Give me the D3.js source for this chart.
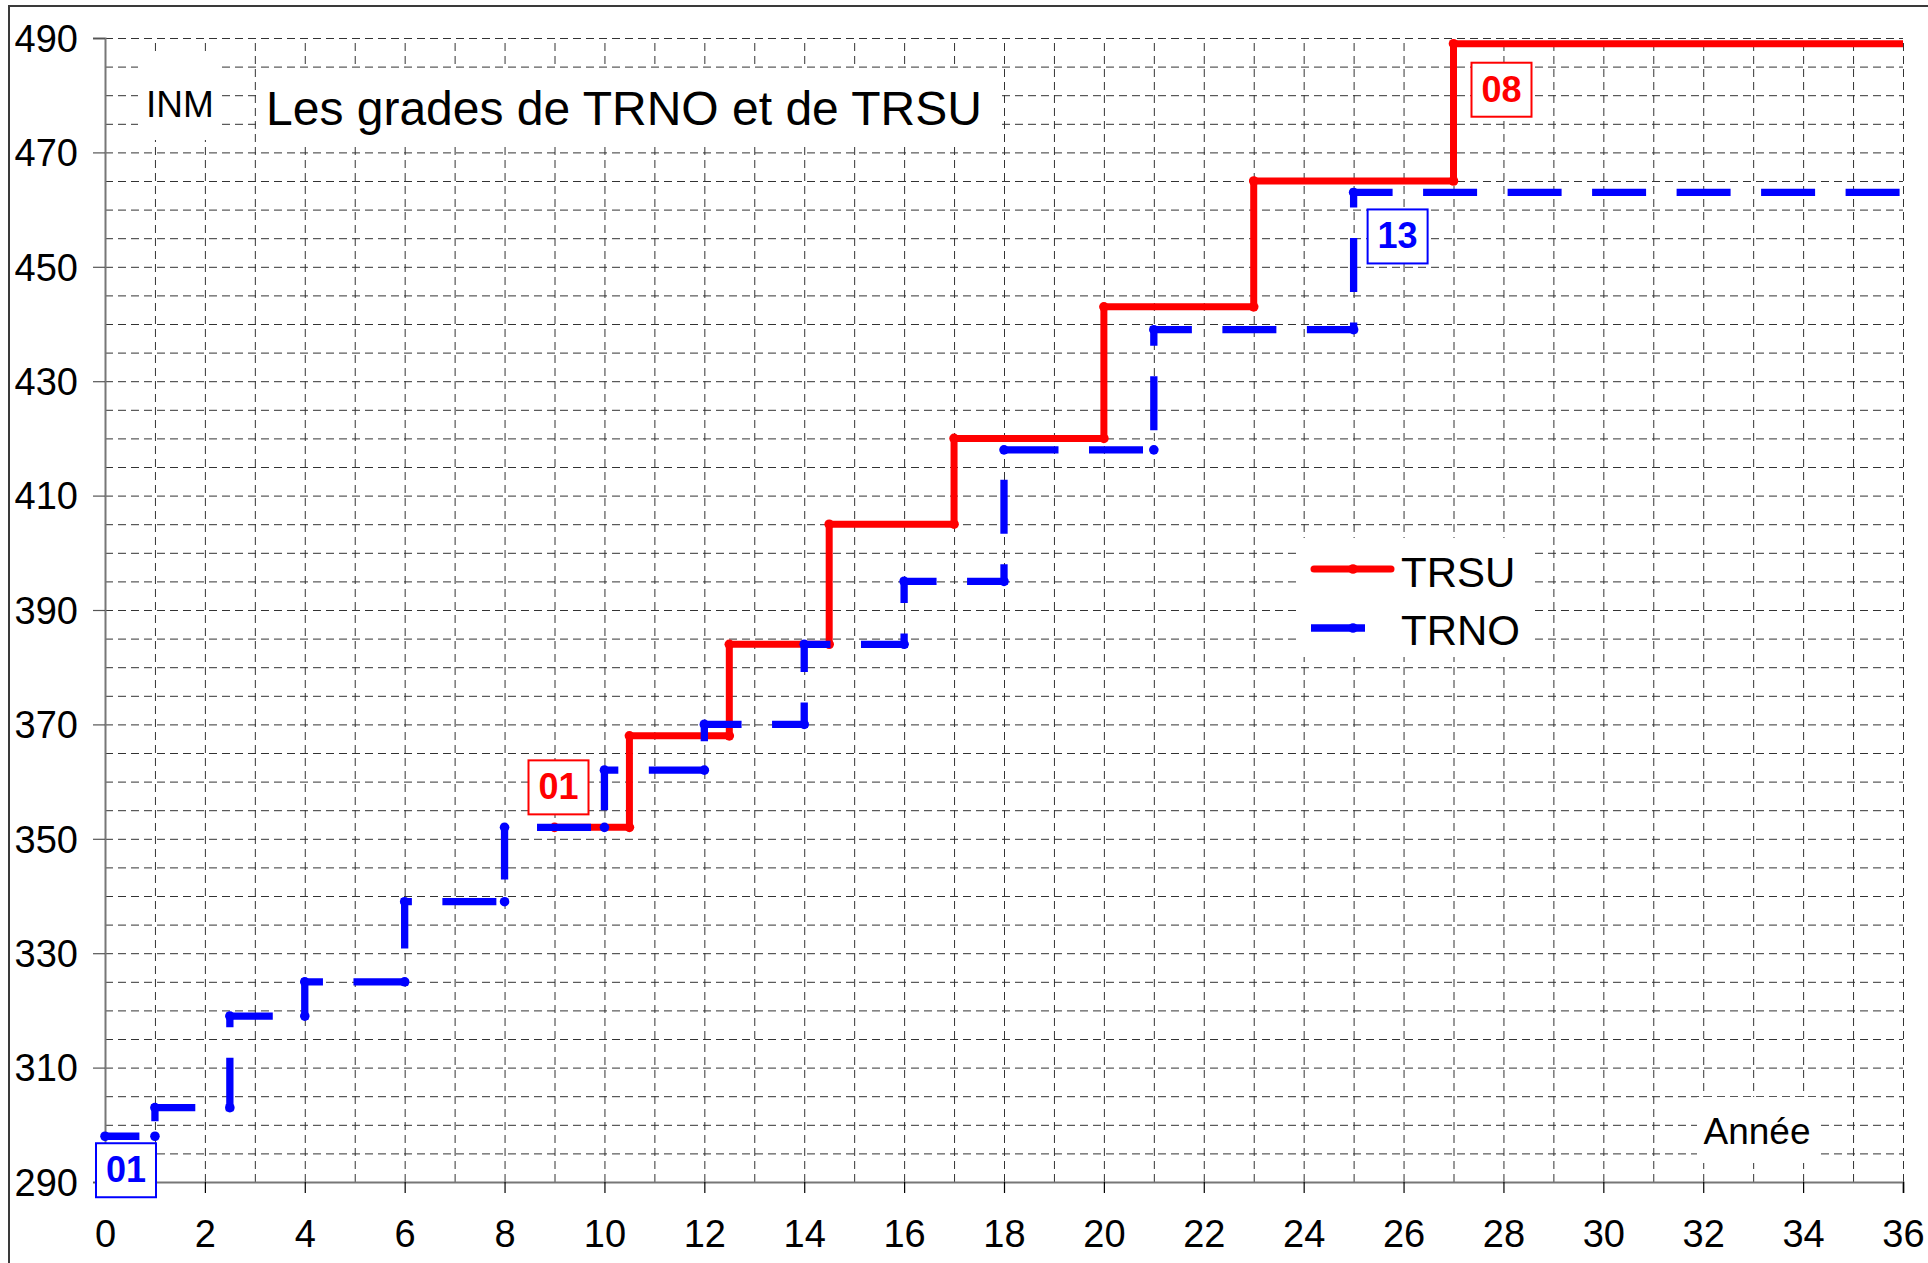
<!DOCTYPE html>
<html>
<head>
<meta charset="utf-8">
<script src="https://cdn.jsdelivr.net/npm/d3@7"></script>
<style>
  body { margin: 0; background: #fff; }
  svg text { font-family: "Liberation Sans", Arial, sans-serif; fill: #000; }
</style>
</head>
<body>
<div id="chart"></div>
<script>
// grade steps: a step starts at years[i] with index values[i], the last year closes the line
const trnoYears = [0, 1, 2.5, 4, 6, 8, 10, 12, 14, 16, 18, 21, 25, 36];
const trnoIndices = [298, 303, 319, 325, 339, 352, 362, 370, 384, 395, 418, 439, 463];
const trsuYears = [9, 10.5, 12.5, 14.5, 17, 20, 23, 27, 36];
const trsuIndices = [352, 368, 384, 405, 420, 443, 465, 489];

const xTickLabels = [0, 2, 4, 6, 8, 10, 12, 14, 16, 18, 20, 22, 24, 26, 28, 30, 32, 34, 36];
const yTickLabels = [290, 310, 330, 350, 370, 390, 410, 430, 450, 470, 490];

const seriesNames = ['TRSU', 'TRNO'];
const gradeLabels = ['01', '08', '01', '13']; // first / last echelon of TRSU, then TRNO
const titleText = 'Les grades de TRNO et de TRSU';
const cornerText = 'INM';
const xAxisText = 'Année';

const W = 1928, H = 1263;
const RED = '#ff0000', BLUE = '#0000ff';

const svg = d3.select('#chart').append('svg')
  .attr('width', W)
  .attr('height', H);

// chart frame, only its top and left edges are inside the picture
svg.append('rect')
  .attr('x', 9).attr('y', 6)
  .attr('width', 3000).attr('height', 3000)
  .attr('fill', 'none')
  .attr('stroke', '#3a3a3a')
  .attr('stroke-width', 2);

const x = d3.scaleLinear().domain([0, 36]).range([105, 1903]);
const y = d3.scaleLinear().domain([290, 490]).range([1182, 38]);

// dashed grid
const grid = svg.append('g').attr('class', 'grid');
grid.append('g')
  .attr('transform', `translate(0,${y(290)})`)
  .call(d3.axisBottom(x).tickValues(d3.range(1, 37)).tickSize(-(y(290) - y(490))).tickFormat(''));
grid.append('g')
  .attr('transform', `translate(${x(0)},0)`)
  .call(d3.axisLeft(y).tickValues(d3.range(295, 491, 5)).tickSize(-(x(36) - x(0))).tickFormat(''));
grid.selectAll('.domain').remove();
grid.selectAll('line')
  .attr('stroke', '#333')
  .attr('stroke-width', 1)
  .attr('stroke-dasharray', '8,5');

// axes
const xAxis = svg.append('g')
  .attr('transform', `translate(0,${y(290)})`)
  .call(d3.axisBottom(x).tickValues(xTickLabels).tickSize(11).tickPadding(27));
xAxis.select('.domain').attr('stroke', '#777').attr('stroke-width', 2);
xAxis.selectAll('.tick line').attr('stroke', '#000').attr('stroke-width', 1.2);
xAxis.selectAll('.tick text')
  .attr('font-size', 38)
  .attr('font-family', '"Liberation Sans", Arial, sans-serif');

const yAxis = svg.append('g')
  .attr('transform', `translate(${x(0)},0)`)
  .call(d3.axisLeft(y).tickValues(yTickLabels).tickSize(12).tickPadding(15));
yAxis.select('.domain').attr('stroke', '#777').attr('stroke-width', 2);
yAxis.selectAll('.tick line').attr('stroke', '#555').attr('stroke-width', 1.2);
yAxis.selectAll('.tick text')
  .attr('font-size', 38)
  .attr('dy', '0.35em')
  .attr('font-family', '"Liberation Sans", Arial, sans-serif');

// white boxes behind the free texts
const boxes = [
  { x: 138, y: 52, w: 82, h: 88 },
  { x: 257, y: 68, w: 740, h: 78 },
  { x: 1697, y: 1097, w: 120, h: 66 },
  { x: 1297, y: 538, w: 236, h: 119 }
];
svg.append('g').selectAll('rect')
  .data(boxes)
  .enter().append('rect')
  .attr('x', d => d.x).attr('y', d => d.y)
  .attr('width', d => d.w).attr('height', d => d.h)
  .attr('fill', '#fff');

svg.append('text')
  .attr('x', 180).attr('y', 117)
  .attr('text-anchor', 'middle')
  .attr('font-size', 37)
  .text(cornerText);

svg.append('text')
  .attr('x', 266).attr('y', 125)
  .attr('font-size', 48)
  .text(titleText);

svg.append('text')
  .attr('x', 1757).attr('y', 1144)
  .attr('text-anchor', 'middle')
  .attr('font-size', 37)
  .text(xAxisText);

function stepPoints(years, values) {
  const pts = [];
  values.forEach((v, i) => {
    pts.push([years[i], v]);
    pts.push([years[i + 1], v]);
  });
  return pts;
}

const trsuPts = stepPoints(trsuYears, trsuIndices);
const trnoPts = stepPoints(trnoYears, trnoIndices);

const line = d3.line().x(d => x(d[0])).y(d => y(d[1]));

svg.append('path')
  .datum(trsuPts)
  .attr('d', line)
  .attr('fill', 'none')
  .attr('stroke', RED)
  .attr('stroke-width', 7)
  .attr('stroke-linejoin', 'round');

svg.append('g').selectAll('circle')
  .data(trsuPts.slice(0, -1))
  .enter().append('circle')
  .attr('cx', d => x(d[0]))
  .attr('cy', d => y(d[1]))
  .attr('r', 4.8)
  .attr('fill', RED);

svg.append('path')
  .datum(trnoPts)
  .attr('d', line)
  .attr('fill', 'none')
  .attr('stroke', BLUE)
  .attr('stroke-width', 7.3)
  .attr('stroke-dasharray', '54,30.5')
  .attr('stroke-dashoffset', 19.6)
  .attr('stroke-linejoin', 'miter');

svg.append('g').selectAll('circle')
  .data(trnoPts.slice(0, -1))
  .enter().append('circle')
  .attr('cx', d => x(d[0]))
  .attr('cy', d => y(d[1]))
  .attr('r', 4.8)
  .attr('fill', BLUE);

// echelon boxes, placed from the step they belong to
const trsuLast = trsuPts[trsuPts.length - 2];
const trnoLast = trnoPts[trnoPts.length - 2];
const tags = [
  { text: gradeLabels[0], color: RED, at: trsuPts[0], dx: -26, dy: -67 },
  { text: gradeLabels[1], color: RED, at: trsuLast, dx: 18, dy: 19 },
  { text: gradeLabels[2], color: BLUE, at: trnoPts[0], dx: -9, dy: 7 },
  { text: gradeLabels[3], color: BLUE, at: trnoLast, dx: 14, dy: 17 }
];
const tagGroups = svg.append('g').selectAll('g')
  .data(tags)
  .enter().append('g')
  .attr('transform', d => `translate(${x(d.at[0]) + d.dx},${y(d.at[1]) + d.dy})`);
tagGroups.append('rect')
  .attr('width', 60).attr('height', 54)
  .attr('fill', '#fff')
  .attr('stroke', d => d.color)
  .attr('stroke-width', 2);
tagGroups.append('text')
  .attr('x', 30).attr('y', 39)
  .attr('text-anchor', 'middle')
  .attr('font-size', 36)
  .attr('font-weight', 'bold')
  .style('fill', d => d.color)
  .text(d => d.text);

// legend
const legend = svg.append('g');
legend.append('line')
  .attr('x1', 1314).attr('x2', 1391).attr('y1', 569).attr('y2', 569)
  .attr('stroke', RED).attr('stroke-width', 7).attr('stroke-linecap', 'round');
legend.append('circle').attr('cx', 1353).attr('cy', 569).attr('r', 4.8).attr('fill', RED);
legend.append('line')
  .attr('x1', 1311).attr('x2', 1365).attr('y1', 628).attr('y2', 628)
  .attr('stroke', BLUE).attr('stroke-width', 7.3);
legend.append('circle').attr('cx', 1353).attr('cy', 628).attr('r', 4.8).attr('fill', BLUE);
legend.selectAll('text')
  .data(seriesNames)
  .enter().append('text')
  .attr('x', 1401)
  .attr('y', (d, i) => 587 + i * 58)
  .attr('font-size', 42)
  .text(d => d);
</script>
</body>
</html>
